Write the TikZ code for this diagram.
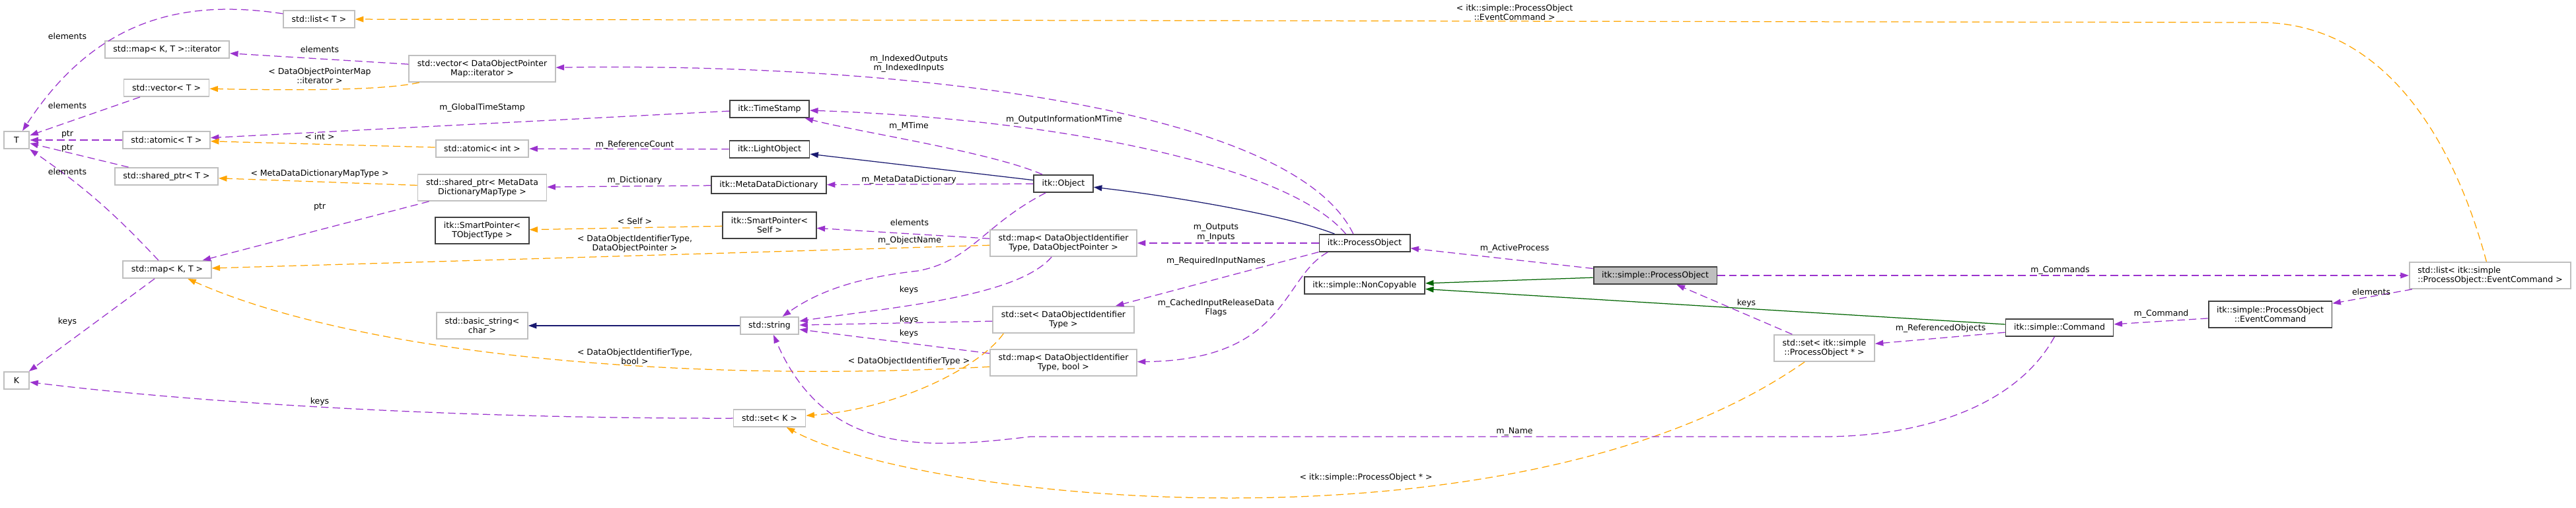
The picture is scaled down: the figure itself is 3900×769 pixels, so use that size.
\documentclass[tikz,border=0pt]{standalone}
\usepackage{fontspec}
\setmainfont{DejaVu Sans}
\usetikzlibrary{arrows.meta}
\definecolor{orchid}{HTML}{9A32CD}
\definecolor{tmplorange}{HTML}{FFA500}
\definecolor{midnight}{HTML}{191970}
\definecolor{dkgreen}{HTML}{006400}
\definecolor{boxgray}{HTML}{BFBFBF}
\definecolor{boxdark}{HTML}{404040}
\newcommand\dxfont{\fontsize{10}{11.6}\selectfont}
\tikzset{
  >={Triangle[length=10pt,width=7pt]},
  box/.style={draw=#1,fill=white,line width=1.5pt,inner xsep=10pt,inner ysep=2pt,
    minimum height=20.8pt,align=center,font=\dxfont},
  box/.default=boxdark,
  ext/.style={box=boxgray},
  focus/.style={box=boxdark,fill=boxgray},
  tall/.style={minimum height=32pt},
  lbl/.style={font=\dxfont,align=center,inner sep=1pt},
  member/.style={->,draw=orchid,line width=1pt,dash pattern=on 9pt off 5pt},
  tmpl/.style={->,draw=tmplorange,line width=1pt,dash pattern=on 9pt off 5pt},
  inherit/.style={->,draw=midnight,line width=1pt},
  protinh/.style={->,draw=dkgreen,line width=1pt},
}
\begin{document}
\begin{tikzpicture}[x=0.8pt,y=-0.8pt]
  \fill[white] (0,0) rectangle (3900,769);
  \useasboundingbox (0,0) rectangle (3900,769);
  % std containers, left part
  \node[ext,minimum width=31pt] (T) at (25,212) {T};
  \node[ext,minimum width=31pt] (K) at (25,576) {K};
  \node[ext] (lstT) at (483,29) {std::list< T >};
  \node[ext] (mapIt) at (253,75) {std::map< K, T >::iterator};
  \node[ext] (vecT) at (252,133) {std::vector< T >};
  \node[ext] (atmT) at (252,212) {std::atomic< T >};
  \node[ext] (shpT) at (252,267) {std::shared\_ptr< T >};
  \node[ext] (mapKT) at (253,408) {std::map< K, T >};
  \node[ext,tall] (vecDOP) at (730,104) {std::vector< DataObjectPointer\\Map::iterator >};
  \node[ext] (atmInt) at (730,225) {std::atomic< int >};
  \node[ext,tall] (shpMeta) at (730,284) {std::shared\_ptr< MetaData\\DictionaryMapType >};
  \node[box,tall] (spTObj) at (730,349) {itk::SmartPointer<\\TObjectType >};
  \node[ext,tall] (bstr) at (730,493) {std::basic\_string<\\char >};
  % itk classes
  \node[box] (tstamp) at (1165,165) {itk::TimeStamp};
  \node[box] (lightObj) at (1165,226) {itk::LightObject};
  \node[box] (mdd) at (1164,280) {itk::MetaDataDictionary};
  \node[box,tall] (spSelf) at (1165,341) {itk::SmartPointer<\\Self >};
  \node[ext] (str) at (1165,493) {std::string};
  \node[ext] (setK) at (1165,633) {std::set< K >};
  \node[box] (obj) at (1610,278) {itk::Object};
  \node[ext,tall] (mapDOP) at (1610,368) {std::map< DataObjectIdentifier\\Type, DataObjectPointer >};
  \node[ext,tall] (setDO) at (1610,484) {std::set< DataObjectIdentifier\\Type >};
  \node[ext,tall] (mapDOB) at (1610,549) {std::map< DataObjectIdentifier\\Type, bool >};
  \node[box] (procObj) at (2066,368) {itk::ProcessObject};
  \node[box] (nonCopy) at (2066,432) {itk::simple::NonCopyable};
  % simple classes
  \node[focus] (simplePO) at (2506,417) {itk::simple::ProcessObject};
  \node[ext,tall] (setSPO) at (2762,527) {std::set< itk::simple\\::ProcessObject * >};
  \node[box] (cmd) at (3118,496) {itk::simple::Command};
  \node[box,tall] (evCmd) at (3437,476) {itk::simple::ProcessObject\\::EventCommand};
  \node[ext,tall,align=left] (lstEC) at (3770,417) {std::list< itk::simple\\::ProcessObject::EventCommand >};

  % edges
  \draw[member] (lstT) .. controls (290,0) and (150,20) .. (T);
  \draw[member] (vecT) -- (T);
  \draw[member] (atmT) -- (T);
  \draw[member] (shpT) -- (T);
  \draw[member] (mapKT) to[bend right=6] (T);
  \draw[member] (mapKT) -- (K);
  \draw[member] (setK) .. controls (700,634) and (300,610) .. (K);
  \draw[member] (vecDOP) -- (mapIt);
  \draw[tmpl] (vecDOP) .. controls (580,137) and (450,137) .. (vecT);
  \draw[member] (tstamp) -- (atmT);
  \draw[tmpl] (atmInt) -- (atmT);
  \draw[member] (lightObj) -- (atmInt);
  \draw[tmpl] (shpMeta) -- (shpT);
  \draw[member] (shpMeta) -- (mapKT);
  \draw[member] (mdd) -- (shpMeta);
  \draw[tmpl] (spSelf) -- (spTObj);
  \draw[tmpl] (mapDOP) -- (mapKT);
  \draw[tmpl] (mapDOB) .. controls (1050,580) and (550,540) .. (mapKT);
  \draw[inherit] (str) -- (bstr);
  \draw[inherit] (obj) -- (lightObj);
  \draw[member] (obj) .. controls (1500,230) and (1300,200) .. (tstamp);
  \draw[member] (obj) -- (mdd);
  \draw[member] (obj) .. controls (1490,340) and (1470,395) .. (1390,410)
    .. controls (1300,420) and (1240,440) .. (str);
  \draw[member] (mapDOP) -- (spSelf);
  \draw[member] (mapDOP) .. controls (1540,450) and (1350,465) .. (str);
  \draw[member] (setDO) -- (str);
  \draw[member] (mapDOB) -- (str);
  \draw[tmpl] (setDO.193) .. controls (1480,560) and (1350,620) .. (setK);
  \draw[inherit] (procObj.163) .. controls (1960,330) and (1800,300) .. (obj);
  \draw[member] (procObj.154) .. controls (1950,250) and (1600,180) .. (tstamp);
  \draw[member] (procObj.141) .. controls (1950,150) and (1300,95) .. (vecDOP);
  \draw[member] (procObj) -- (mapDOP);
  \draw[member] (procObj.191) -- (setDO);
  \draw[member] (procObj.194) .. controls (1940,420) and (1950,545) .. (mapDOB);
  \draw[member] (simplePO) -- (procObj);
  \draw[protinh] (simplePO) -- (nonCopy);
  \draw[protinh] (cmd) -- (nonCopy);
  \draw[member] (simplePO) -- (lstEC);
  \draw[member] (lstEC) -- (evCmd);
  \draw[member] (evCmd) -- (cmd);
  \draw[tmpl] (lstEC) .. controls (3720,230) and (3620,34) .. (3420,34) -- (lstT);
  \draw[member] (cmd) -- (setSPO);
  \draw[member] (setSPO) -- (simplePO);
  \draw[tmpl] (setSPO) .. controls (2300,850) and (1400,760) .. (setK);
  \draw[member] (cmd) .. controls (3050,620) and (2900,661) .. (2760,661) -- (1560,661)
    .. controls (1400,680) and (1250,690) .. (str);

  % edge labels
  \foreach \n/\x/\y/\t in {
    lElemL/102/55/elements, lElemV/102/160/elements, lPtrA/102/203/ptr,
    lPtrS/102/224/ptr, lElemM/102/260/elements, lKeysM/102/487/keys,
    lKeysS/484/608/keys, lElemIt/484/75/elements,
    lTmplIt/484/115/{< DataObjectPointerMap\\::iterator >},
    lGlobal/730/163/m\_GlobalTimeStamp, lInt/484/207/{< int >},
    lMeta/484/263/{< MetaDataDictionaryMapType >}, lPtrM/484/313/ptr,
    lRef/961/219/m\_ReferenceCount, lDict/961/273/m\_Dictionary,
    lSelf/961/335/{< Self >},
    lTmplDOP/961/369/{< DataObjectIdentifierType,\\DataObjectPointer >},
    lTmplDOB/961/540/{< DataObjectIdentifierType,\\bool >},
    lIdx/1376/96/{m\_IndexedOutputs\\m\_IndexedInputs},
    lMTime/1376/191/m\_MTime, lMDD/1376/272/m\_MetaDataDictionary,
    lElemSP/1377/337/elements, lObjName/1377/364/m\_ObjectName,
    lKeys1/1376/439/keys, lKeys2/1376/484/keys, lKeys3/1376/505/keys,
    lTmplSet/1376/547/{< DataObjectIdentifierType >},
    lOutInfo/1611/181/m\_OutputInformationMTime,
    lIO/1841/352/{m\_Outputs\\m\_Inputs}, lReq/1841/395/m\_RequiredInputNames,
    lCached/1841/466/{m\_CachedInputReleaseData\\Flags},
    lActive/2293/376/m\_ActiveProcess,
    lTmplEC/2293/19/{< itk::simple::ProcessObject\\::EventCommand >},
    lName/2293/653/m\_Name, lTmplSPO/2068/723/{< itk::simple::ProcessObject * >},
    lKeysSPO/2644/459/keys, lCmds/3119/409/m\_Commands,
    lRefObj/2938/497/m\_ReferencedObjects, lElemEC/3590/442/elements,
    lCmd/3272/475/m\_Command}
    \node[lbl] (\n) at (\x,\y) {\t};
\end{tikzpicture}
\end{document}
